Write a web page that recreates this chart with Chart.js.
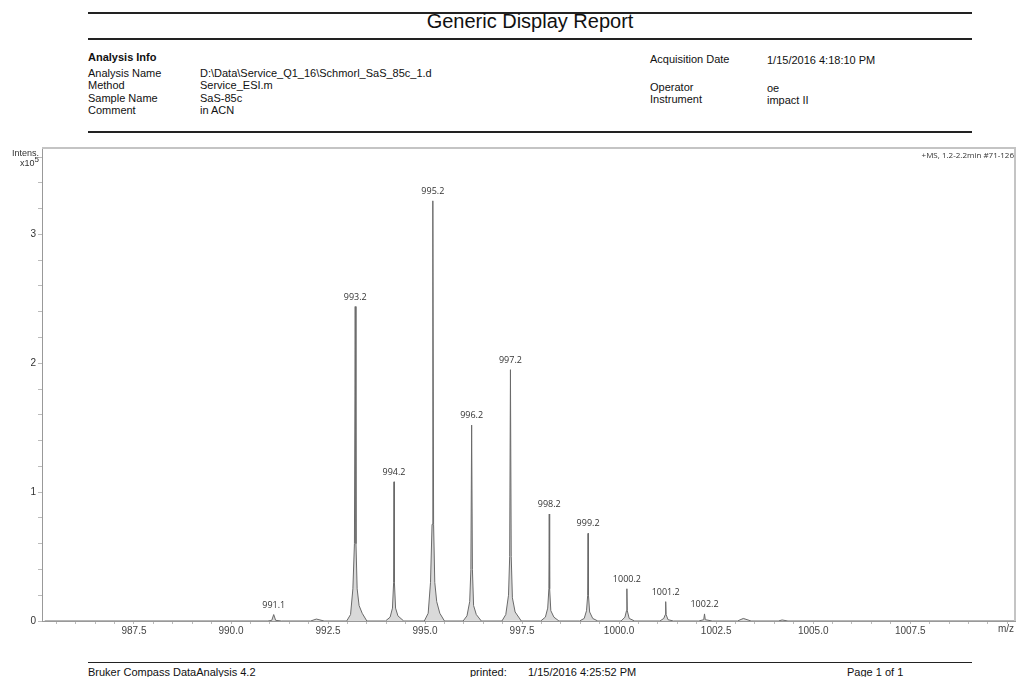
<!DOCTYPE html>
<html>
<head>
<meta charset="utf-8">
<script src="https://cdn.jsdelivr.net/npm/chart.js@4.4.1/dist/chart.umd.min.js"></script>
<style>
  body { margin: 0; background: #fff; font-family: "Liberation Sans", Arial, sans-serif; color: #111; }
  #page { position: relative; width: 1018px; height: 677px; overflow: hidden; }
  .t { position: absolute; white-space: nowrap; font-size: 11px; line-height: 12px; }
  .rule { position: absolute; left: 88px; width: 884px; background: #222; }
  #title { position: absolute; left: 88px; width: 884px; top: 10px; text-align: center; font-size: 20px; }
  #wrap { position: absolute; left: 0; top: 140px; width: 1018px; height: 500px; }
  #ylab { position: absolute; left: 0; width: 39px; top: 148px; text-align: right; font-size: 9px; line-height: 10px; color: #333; }
  #ylab sup { font-size: 8px; line-height: 0; }
</style>
</head>
<body>
<div id="page">
  <div class="rule" style="top:12px;height:2px"></div>
  <div id="title">Generic Display Report</div>
  <div class="rule" style="top:38px;height:2px"></div>

  <div class="t" style="left:88px;top:51px;font-weight:bold">Analysis Info</div>
  <div class="t" style="left:88px;top:67px">Analysis Name</div>
  <div class="t" style="left:88px;top:79px">Method</div>
  <div class="t" style="left:88px;top:92px">Sample Name</div>
  <div class="t" style="left:88px;top:104px">Comment</div>
  <div class="t" style="left:200px;top:67px">D:\Data\Service_Q1_16\Schmorl_SaS_85c_1.d</div>
  <div class="t" style="left:200px;top:79px">Service_ESI.m</div>
  <div class="t" style="left:200px;top:92px">SaS-85c</div>
  <div class="t" style="left:200px;top:104px">in ACN</div>

  <div class="t" style="left:650px;top:53px">Acquisition Date</div>
  <div class="t" style="left:767px;top:54px">1/15/2016 4:18:10 PM</div>
  <div class="t" style="left:650px;top:81px">Operator</div>
  <div class="t" style="left:767px;top:82px">oe</div>
  <div class="t" style="left:650px;top:93px">Instrument</div>
  <div class="t" style="left:767px;top:94px">impact II</div>
  <div class="rule" style="top:131px;height:2px"></div>

  <div id="wrap"><canvas id="ms"></canvas></div>
  <div id="ylab">Intens.<br>x10<sup>5</sup></div>

  <div class="rule" style="top:662px;height:1px"></div>
  <div class="t" style="left:88px;top:666px">Bruker Compass DataAnalysis 4.2</div>
  <div class="t" style="left:470px;top:666px">printed:</div>
  <div class="t" style="left:528px;top:666px">1/15/2016 4:25:52 PM</div>
  <div class="t" style="left:847px;top:666px">Page 1 of 1</div>
</div>

<script>
// profile spectrum (m/z, intensity x10^5)
const profileMz = [
  985.2,
  990.95, 991.05, 991.1, 991.15, 991.3,
  992.05, 992.2, 992.4,
  992.98, 993.08, 993.14, 993.18, 993.2, 993.22, 993.25, 993.3, 993.38, 993.5,
  993.98, 994.1, 994.16, 994.19, 994.2, 994.21, 994.24, 994.3, 994.45,
  994.98, 995.08, 995.14, 995.18, 995.2, 995.22, 995.25, 995.3, 995.38, 995.5,
  995.98, 996.08, 996.15, 996.18, 996.2, 996.22, 996.25, 996.32, 996.45,
  996.98, 997.08, 997.15, 997.18, 997.2, 997.22, 997.25, 997.32, 997.48,
  997.98, 998.1, 998.16, 998.19, 998.2, 998.21, 998.24, 998.32, 998.45,
  998.98, 999.1, 999.16, 999.19, 999.2, 999.21, 999.24, 999.32, 999.45,
  1000.05, 1000.15, 1000.19, 1000.2, 1000.21, 1000.26, 1000.4,
  1001.05, 1001.15, 1001.19, 1001.2, 1001.21, 1001.26, 1001.4,
  1002.05, 1002.18, 1002.2, 1002.22, 1002.4,
  1003.05, 1003.2, 1003.4,
  1004.1, 1004.2, 1004.35,
  1010.2
];
const profileInt = [
  0,
  0, 0.005, 0.05, 0.005, 0,
  0, 0.015, 0,
  0, 0.05, 0.25, 0.6, 2.44, 0.6, 0.25, 0.12, 0.06, 0,
  0, 0.03, 0.1, 0.3, 1.08, 0.3, 0.1, 0.04, 0,
  0, 0.06, 0.3, 0.75, 3.26, 0.75, 0.3, 0.15, 0.06, 0,
  0, 0.04, 0.15, 0.4, 1.52, 0.4, 0.12, 0.05, 0,
  0, 0.05, 0.2, 0.5, 1.95, 0.5, 0.18, 0.07, 0,
  0, 0.03, 0.1, 0.25, 0.83, 0.25, 0.08, 0.03, 0,
  0, 0.02, 0.08, 0.2, 0.68, 0.2, 0.07, 0.02, 0,
  0, 0.03, 0.08, 0.25, 0.08, 0.02, 0,
  0, 0.02, 0.05, 0.15, 0.05, 0.01, 0,
  0, 0.01, 0.055, 0.01, 0,
  0, 0.02, 0,
  0, 0.008, 0,
  0
];

// labelled peaks
const peakMz  = [991.1, 993.2, 994.2, 995.2, 996.2, 997.2, 998.2, 999.2, 1000.2, 1001.2, 1002.2];
const peakInt = [0.05, 2.44, 1.08, 3.26, 1.52, 1.95, 0.83, 0.68, 0.25, 0.15, 0.055];

// axis ticks
const xTickLabels = [987.5, 990.0, 992.5, 995.0, 997.5, 1000.0, 1002.5, 1005.0, 1007.5];
const yTickLabels = [0, 1, 2, 3];

const xRange = [985.13, 1010.2];
const yRange = [0, 3.67];

const points = profileMz.map((m, i) => ({ x: m, y: profileInt[i] }));
const near = (list, v) => list.some(t => Math.abs(t - v) < 1e-6);

const decor = {
  id: 'decor',
  afterDatasetsDraw(chart) {
    const { ctx, chartArea: a, scales: { x, y } } = chart;
    ctx.save();
    // frame top / right
    ctx.strokeStyle = '#c4c4c4';
    ctx.lineWidth = 2;
    ctx.beginPath();
    ctx.moveTo(a.left, a.top); ctx.lineTo(a.right, a.top); ctx.lineTo(a.right, a.bottom);
    ctx.stroke();
    // peak labels
    ctx.fillStyle = '#333';
    ctx.font = '9px "Open Sans", sans-serif';
    ctx.textAlign = 'center';
    ctx.textBaseline = 'bottom';
    peakMz.forEach((m, i) => {
      ctx.fillText(m.toFixed(1), x.getPixelForValue(m), y.getPixelForValue(peakInt[i]) - 5);
    });
    // corner texts
    ctx.font = '8px "Open Sans", sans-serif';
    ctx.textAlign = 'right';
    ctx.textBaseline = 'middle';
    ctx.fillText('+MS, 1.2-2.2min #71-126', a.right - 1, a.top + 8);
    ctx.fillStyle = '#444';
    ctx.font = '10px "Liberation Sans", Arial, sans-serif';
    ctx.fillText('m/z', a.right - 1, a.bottom + 8);
    ctx.restore();
  }
};

new Chart(document.getElementById('ms'), {
  type: 'line',
  data: {
    datasets: [{
      data: points,
      borderColor: '#6a6a6a',
      borderWidth: 1,
      backgroundColor: '#d9d9d9',
      fill: 'origin',
      pointRadius: 0,
      tension: 0
    }]
  },
  options: {
    responsive: true,
    maintainAspectRatio: false,
    animation: false,
    layout: { padding: { left: 0, right: 3, top: 7, bottom: 0 } },
    plugins: { legend: { display: false }, tooltip: { enabled: false } },
    scales: {
      x: {
        type: 'linear',
        min: xRange[0], max: xRange[1],
        afterFit: s => { s.height = 19; },
        border: { color: '#999', width: 1 },
        grid: { drawOnChartArea: false, tickLength: 3, color: '#bbb' },
        ticks: {
          stepSize: 0.5, includeBounds: false, autoSkip: false, maxRotation: 0,
          padding: 1, color: '#444',
          font: { family: '"Liberation Sans", Arial, sans-serif', size: 10 },
          callback: v => (near(xTickLabels, v) ? v.toFixed(1) : '')
        }
      },
      y: {
        min: yRange[0], max: yRange[1],
        afterFit: s => { s.width = 42; },
        border: { color: '#999', width: 1 },
        grid: { drawOnChartArea: false, tickLength: 4, color: '#bbb' },
        ticks: {
          stepSize: 0.2, includeBounds: false, autoSkip: false, padding: 2, color: '#333',
          font: { family: '"Liberation Sans", Arial, sans-serif', size: 10 },
          callback: v => (near(yTickLabels, v) ? String(Math.round(v)) : '')
        }
      }
    }
  },
  plugins: [decor]
});
</script>
</body>
</html>
